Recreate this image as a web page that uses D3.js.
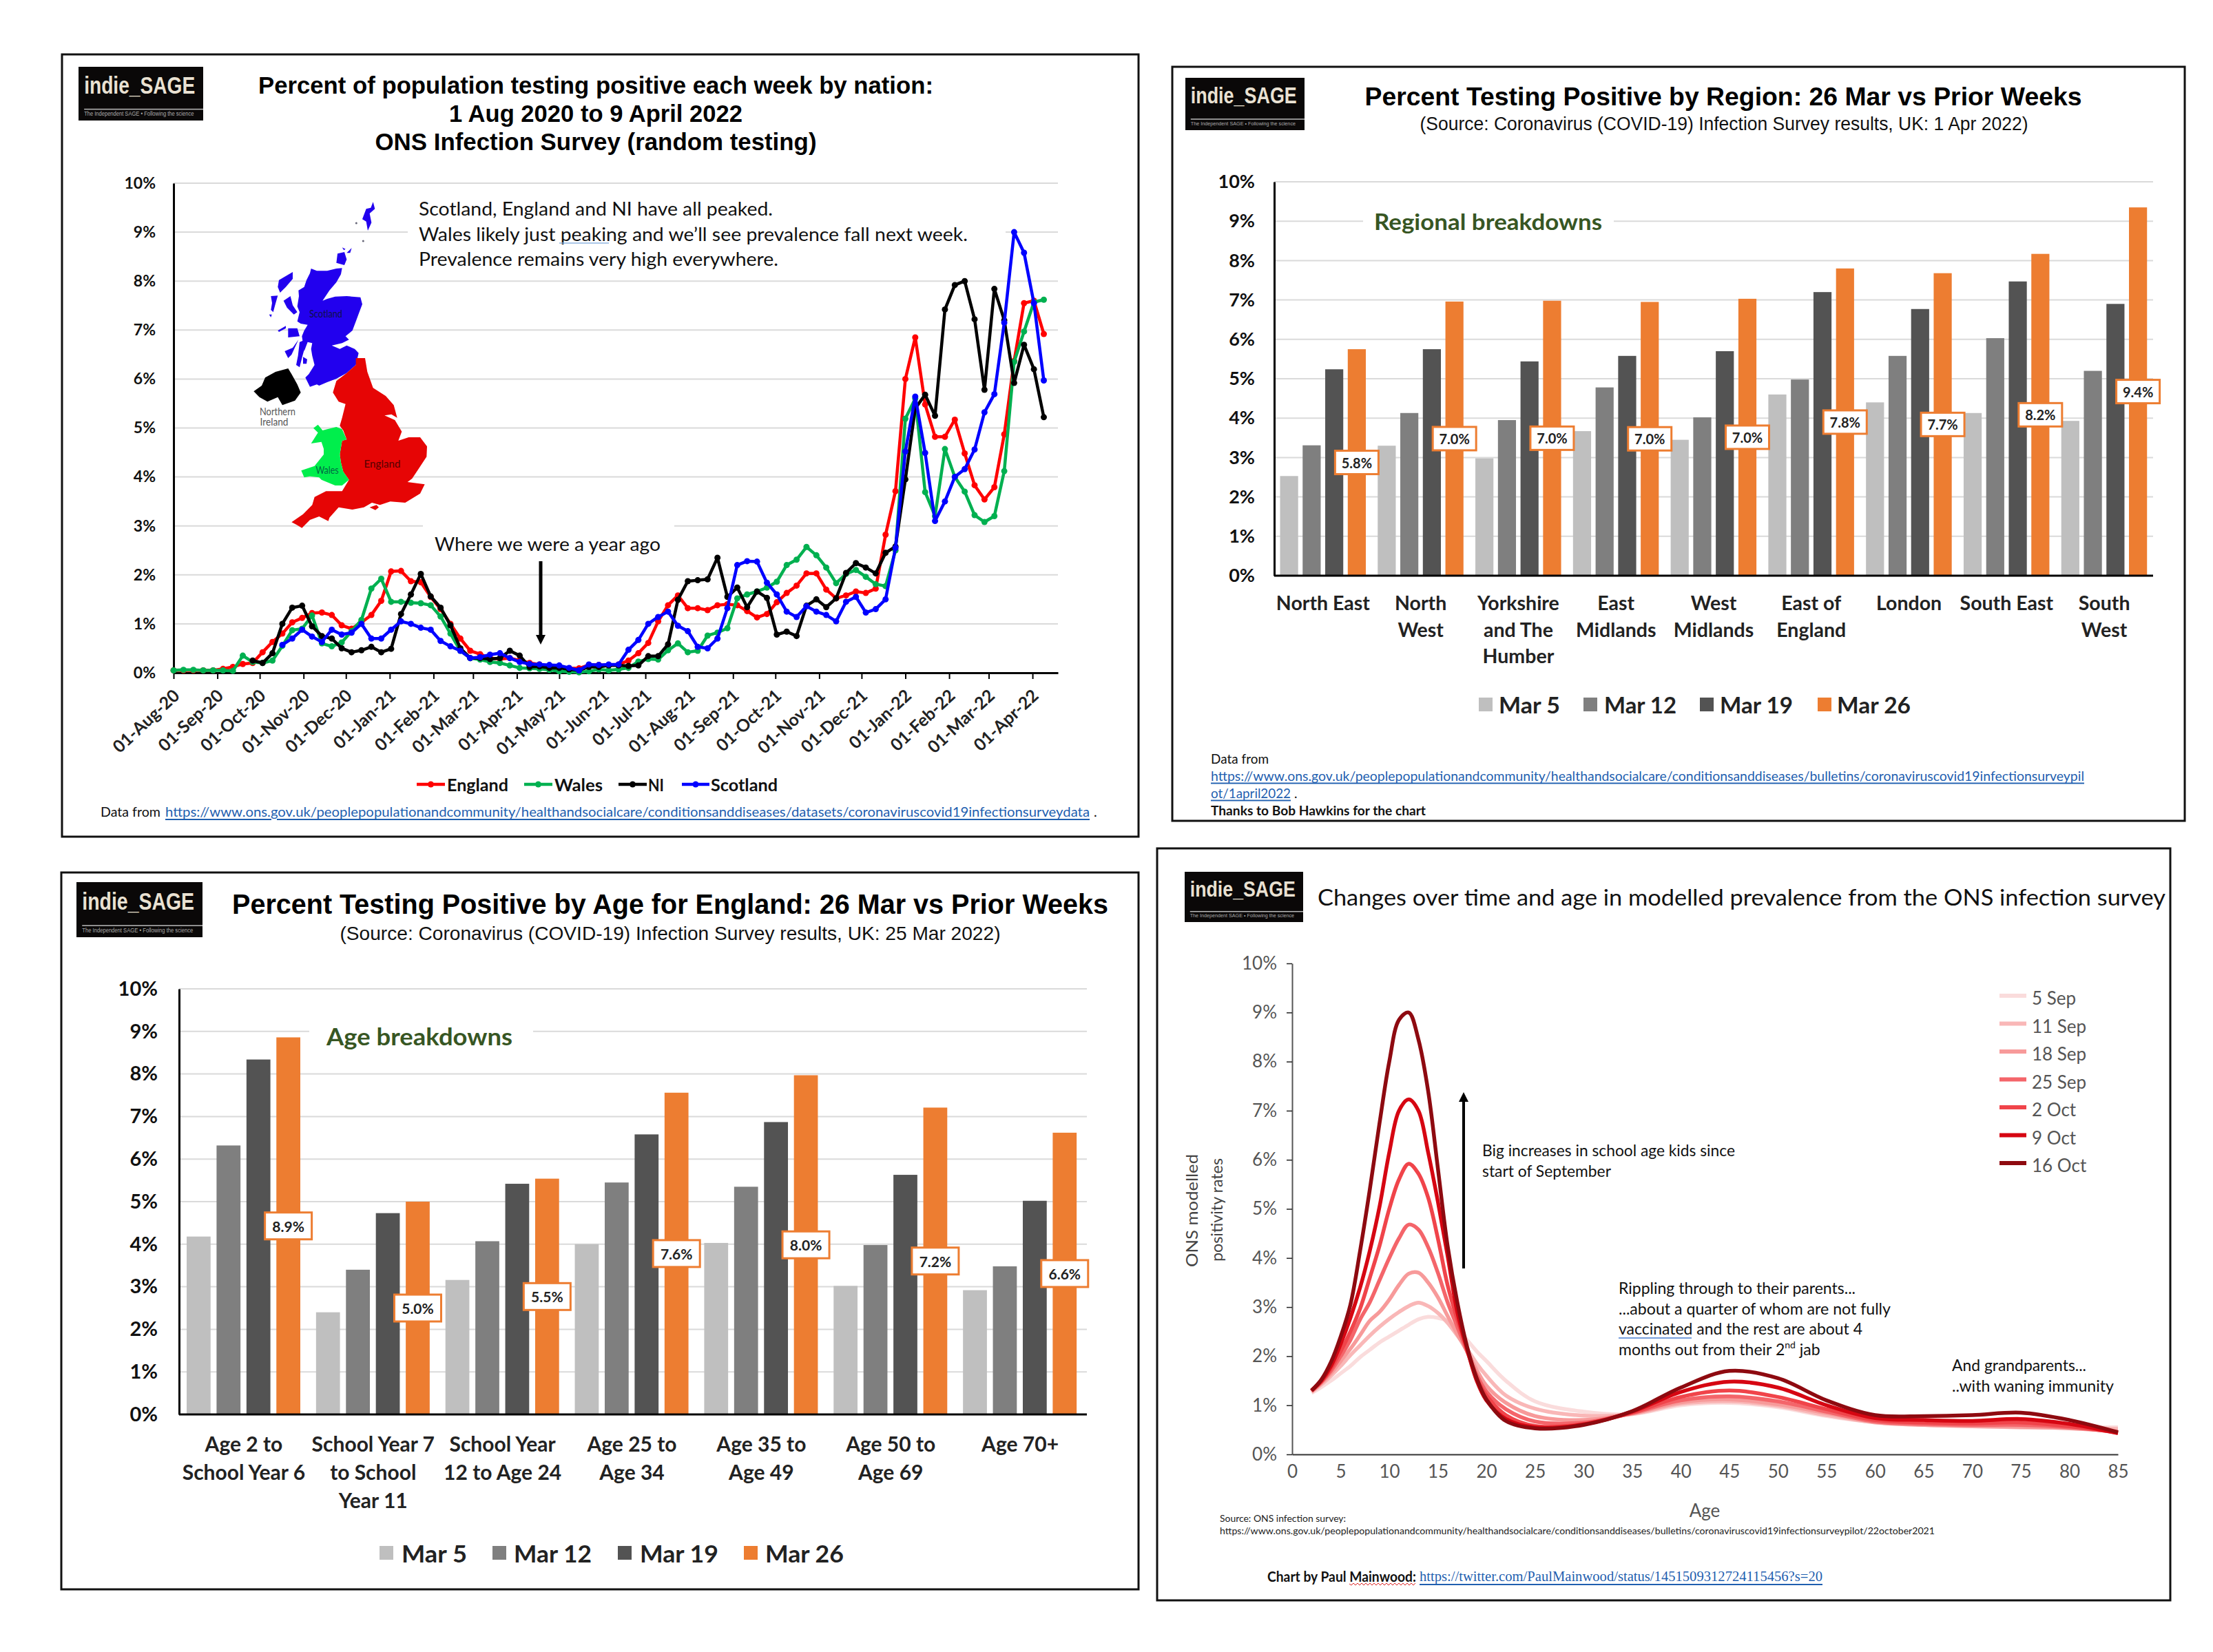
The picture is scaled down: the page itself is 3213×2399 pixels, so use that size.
<!DOCTYPE html>
<html><head><meta charset="utf-8">
<script src="https://cdn.jsdelivr.net/npm/d3@7"></script>
<style>html,body{margin:0;padding:0;background:#fff}svg{display:block}</style>
</head><body><svg id="c" width="3213" height="2399" xmlns="http://www.w3.org/2000/svg"></svg>
<script>
// ---------- data ----------
const percentTicks=[0,1,2,3,4,5,6,7,8,9,10];
const england=[.05,.05,.05,.05,.05,.08,.12,.18,.2,.42,.63,.8,1.03,1.12,1.22,1.23,1.18,.97,.9,1.03,1.18,1.47,2.07,2.08,1.87,1.85,1.55,1.3,1.0,.7,.45,.38,.3,.28,.3,.25,.2,.17,.14,.12,.09,.09,.16,.16,.15,.17,.25,.4,.61,1.05,1.38,1.58,1.32,1.32,1.28,1.38,1.4,1.38,1.26,1.13,1.2,1.44,1.63,1.78,2.03,2.03,1.7,1.52,1.58,1.66,1.63,1.72,2.82,3.71,6.0,6.85,5.48,4.82,4.82,5.17,4.48,3.83,3.54,3.79,4.87,6.37,7.55,7.6,6.92];
const wales=[.05,.06,.06,.05,.05,.05,.04,.35,.22,.2,.25,.55,.87,.9,1.17,.6,.54,.62,.85,1.08,1.72,1.92,1.45,1.45,1.43,1.42,1.38,1.15,.8,.45,.3,.27,.22,.2,.15,.1,.09,.08,.06,.03,.02,.01,.03,.07,.05,.07,.1,.23,.28,.27,.46,.6,.42,.45,.76,.82,.91,1.52,1.6,1.66,1.74,1.86,2.2,2.31,2.57,2.4,2.15,1.83,2.02,2.1,1.96,1.81,1.77,2.5,5.19,5.6,3.69,3.2,4.57,4.0,3.7,3.22,3.08,3.2,4.12,6.35,6.97,7.57,7.62];
const ni=[null,null,null,null,null,null,null,null,.25,.2,.4,1.0,1.33,1.37,.95,.75,.7,.5,.42,.46,.53,.42,.49,1.2,1.6,2.02,1.56,1.33,.97,.5,.3,.3,.28,.3,.45,.35,.12,.13,.1,.1,.07,.05,.12,.12,.15,.15,.14,.15,.34,.34,.58,1.49,1.87,1.89,1.91,2.35,1.55,1.74,1.34,1.66,1.53,.78,.84,.75,1.37,1.5,1.34,1.52,2.04,2.24,2.15,2.03,2.45,2.58,3.95,5.4,5.68,5.25,7.42,7.92,8.0,7.22,5.78,7.84,7.2,5.92,6.7,6.2,5.22];
const scotland=[null,null,null,null,null,null,null,null,null,null,null,.57,.7,.88,.74,.63,.88,.78,.82,1.0,.7,.7,.88,1.05,1.0,.92,.88,.65,.54,.45,.3,.32,.37,.4,.3,.22,.18,.17,.16,.15,.1,.05,.17,.16,.17,.17,.47,.67,1.0,1.14,1.25,.96,.85,.53,.5,.7,1.32,2.2,2.28,2.27,1.84,1.6,1.25,1.14,1.36,1.25,1.18,1.05,1.45,1.55,1.23,1.3,1.5,2.55,4.52,5.64,4.49,3.1,3.5,4.0,4.16,4.56,5.32,5.69,7.15,9.0,8.58,7.55,5.97];
const nationNames=["England","Wales","NI","Scotland"];
const monthTicks=["2020-08-01","2020-09-01","2020-10-01","2020-11-01","2020-12-01","2021-01-01","2021-02-01","2021-03-01","2021-04-01","2021-05-01","2021-06-01","2021-07-01","2021-08-01","2021-09-01","2021-10-01","2021-11-01","2021-12-01","2022-01-01","2022-02-01","2022-03-01","2022-04-01"];

const weekNames=["Mar 5","Mar 12","Mar 19","Mar 26"];
const regionCats=[["North East"],["North","West"],["Yorkshire","and The","Humber"],["East","Midlands"],["West","Midlands"],["East of","England"],["London"],["South East"],["South","West"]];
const regionMar5=[2.53,3.3,2.98,3.67,3.45,4.6,4.4,4.13,3.93];
const regionMar12=[3.31,4.13,3.95,4.78,4.02,4.98,5.58,6.03,5.2];
const regionMar19=[5.24,5.75,5.44,5.58,5.7,7.2,6.77,7.47,6.9];
const regionMar26=[5.75,6.96,6.98,6.95,7.03,7.8,7.68,8.17,9.35];
const regionLabels=["5.8%","7.0%","7.0%","7.0%","7.0%","7.8%","7.7%","8.2%","9.4%"];

const ageCats=[["Age 2 to","School Year 6"],["School Year 7","to School","Year 11"],["School Year","12 to Age 24"],["Age 25 to","Age 34"],["Age 35 to","Age 49"],["Age 50 to","Age 69"],["Age 70+"]];
const ageMar5=[4.18,2.4,3.16,4.0,4.03,3.02,2.92];
const ageMar12=[6.32,3.4,4.07,5.45,5.35,3.98,3.48];
const ageMar19=[8.34,4.73,5.42,6.58,6.87,5.63,5.02];
const ageMar26=[8.86,5.0,5.54,7.56,7.97,7.21,6.62];
const ageLabels=["8.9%","5.0%","5.5%","7.6%","8.0%","7.2%","6.6%"];

const modelAges=[2,3,4,5,6,7,8,9,10,11,12,13,14,15,16,17,18,19,20,22,25,30,35,40,45,50,55,60,65,70,75,80,85];
const sep5=[1.25,1.37,1.5,1.65,1.8,1.98,2.13,2.28,2.4,2.52,2.64,2.75,2.8,2.78,2.72,2.55,2.33,2.1,1.9,1.5,1.08,.87,.82,1.0,1.05,.96,.78,.65,.6,.57,.55,.55,.55];
const sep11=[1.27,1.42,1.6,1.8,2.02,2.22,2.42,2.6,2.76,2.9,3.02,3.09,3.02,2.88,2.68,2.42,2.15,1.85,1.6,1.2,.93,.79,.82,1.03,1.08,.99,.8,.65,.6,.57,.55,.54,.52];
const sep18=[1.28,1.45,1.65,1.9,2.15,2.43,2.72,2.9,3.15,3.45,3.68,3.7,3.5,3.2,2.82,2.45,2.1,1.72,1.4,1.05,.78,.7,.83,1.06,1.12,1.02,.84,.66,.6,.58,.56,.53,.47];
const sep25=[1.29,1.47,1.7,2.0,2.33,2.75,3.1,3.55,4.0,4.4,4.68,4.58,4.22,3.7,3.1,2.6,2.1,1.62,1.28,.92,.67,.65,.84,1.1,1.18,1.08,.87,.67,.62,.6,.6,.55,.45];
const oct2=[1.3,1.48,1.75,2.1,2.5,2.97,3.6,4.25,5.0,5.6,5.92,5.72,5.23,4.4,3.45,2.75,2.15,1.55,1.2,.8,.58,.62,.85,1.17,1.3,1.17,.92,.7,.65,.63,.65,.57,.44];
const oct9=[1.3,1.5,1.8,2.25,2.78,3.4,4.15,5.05,6.15,7.0,7.23,7.0,6.15,5.15,4.05,2.9,2.15,1.5,1.1,.72,.55,.61,.87,1.27,1.48,1.36,1.0,.74,.7,.68,.72,.62,.43];
const oct16=[1.3,1.52,1.88,2.4,3.05,4.15,5.4,6.75,8.0,8.85,9.0,8.45,7.4,5.83,4.25,3.1,2.2,1.55,1.12,.68,.53,.6,.88,1.36,1.7,1.55,1.1,.8,.78,.8,.85,.7,.45];
const modelNames=["5 Sep","11 Sep","18 Sep","25 Sep","2 Oct","9 Oct","16 Oct"];
const ageTicks=[0,5,10,15,20,25,30,35,40,45,50,55,60,65,70,75,80,85];

// ---------- helpers ----------
const svg=d3.select("#c");
const SANS="Lato, 'Open Sans', sans-serif", ARIAL="'Liberation Sans', Arial, sans-serif";
const LINK="#1F5FB0";
function T(g,txt,x,y,o={}){
  const t=g.append("text").attr("x",x).attr("y",y).text(txt)
    .attr("dominant-baseline","central")
    .attr("font-family",o.family||SANS).attr("font-size",o.size||24)
    .attr("font-weight",o.weight||400).attr("fill",o.fill||"#000")
    .attr("text-anchor",o.anchor||"start");
  if(o.width)t.attr("textLength",o.width).attr("lengthAdjust","spacingAndGlyphs");
  if(o.underline)t.attr("text-decoration","underline");
  return t;
}
function frame(x0,y0,x1,y1){svg.append("rect").attr("x",x0).attr("y",y0).attr("width",x1-x0).attr("height",y1-y0).attr("fill","none").attr("stroke","#111").attr("stroke-width",3);}
function logo(x0,y0,x1,y1){
  const g=svg.append("g"),w=x1-x0,h=y1-y0;
  g.append("rect").attr("x",x0).attr("y",y0).attr("width",w).attr("height",h).attr("fill","#0a0808");
  T(g,"indie_SAGE",x0+w*.045,y0+h*.34,{family:ARIAL,weight:700,size:h*.44,fill:"#E9E1D2",width:w*.89});
  g.append("rect").attr("x",x0+w*.045).attr("y",y0+h*.78).attr("width",w*.955).attr("height",1.5).attr("fill","#bbb");
  T(g,"The Independent SAGE • Following the science",x0+w*.045,y0+h*.875,{family:ARIAL,size:h*.105,fill:"#aaa",width:w*.88});
}
function pctAxis(g,y,xL,xR,o){
  g.selectAll("line.grid").data(percentTicks.slice(1)).join("line").attr("class","grid")
    .attr("x1",xL).attr("x2",xR).attr("y1",d=>y(d)).attr("y2",d=>y(d))
    .attr("stroke","#DADADA").attr("stroke-width",o.grid||2);
  return g;
}
function styleY(ax,o){
  ax.select(".domain").attr("stroke",o.stroke||"#000").attr("stroke-width",o.sw||3);
  ax.selectAll("text").attr("font-family",SANS).attr("font-size",o.size).attr("font-weight",o.weight||700).attr("fill",o.fill||"#111");
}

// ---------- panel 1: nations ----------
(function(){
  frame(90,79,1653,1215); logo(114,97,295,175);
  const gT=svg.append("g");
  T(gT,"Percent of population testing positive each week by nation:",865,123,{family:ARIAL,weight:700,size:35,anchor:"middle",width:980});
  T(gT,"1 Aug 2020 to 9 April 2022",865,164,{family:ARIAL,weight:700,size:35,anchor:"middle",width:426});
  T(gT,"ONS Infection Survey (random testing)",865,205,{family:ARIAL,weight:700,size:35,anchor:"middle",width:641});
  const x=d3.scaleUtc().domain([new Date(Date.UTC(2020,7,1)),new Date(Date.UTC(2022,3,19))]).range([252,1536]);
  const y=d3.scaleLinear().domain([0,10]).range([977,266]);
  const g=svg.append("g");
  pctAxis(g,y,252,1536,{grid:2});
  g.append("rect").attr("x",592).attr("y",285).attr("width",868).attr("height",110).attr("fill","#fff");
  g.append("rect").attr("x",614).attr("y",755).attr("width",365).attr("height",50).attr("fill","#fff");
  // map illustration
  const c1=p=>[360+p[0]/3,280+p[1]/3], c2=p=>[360+p[0]/3,520+p[1]/3];
  const line=d3.line().curve(d3.curveLinearClosed);
  const shape=(pts,fill)=>g.append("path").attr("d",line(pts)).attr("fill",fill);
  [[[275,330],[300,340],[345,340],[385,330],[410,328],[405,355],[385,390],[355,425],[325,470],[345,462],[380,452],[430,450],[490,455],[498,485],[485,520],[470,560],[455,600],[425,625],[440,640],[410,655],[365,665],[400,680],[430,665],[465,680],[482,698],[470,750],[430,785],[385,810],[345,825],[310,840],[300,835],[270,845],[250,805],[265,790],[290,750],[280,710],[275,680],[280,655],[260,650],[245,690],[235,625],[245,600],[260,575],[230,570],[215,560],[225,520],[215,495],[222,450],[220,425],[245,410],[255,380],[270,350]],
   [[225,650],[250,640],[250,665],[235,720],[225,760],[210,750],[218,710]],
   [[155,470],[185,450],[195,490],[215,520],[200,530],[170,500]],
   [[135,380],[195,345],[195,375],[165,410],[140,435],[130,410]],
   [[100,450],[130,448],[118,490],[110,520],[100,510],[105,480]],
   [[92,530],[104,530],[100,542]],
   [[175,590],[215,590],[225,625],[175,630]],
   [[160,690],[195,675],[220,640],[190,705],[175,720]],
   [[240,715],[258,725],[255,745],[240,745]],
   [[130,600],[165,580],[165,590],[135,606]],
   [[390,265],[420,258],[430,290],[420,315],[385,305]],
   [[410,238],[425,245],[418,250]],[[430,262],[452,240],[445,262]],
   [[545,40],[553,70],[530,90],[538,130],[522,165],[515,125],[498,115],[515,70],[535,65]]
  ].forEach(s=>shape(s.map(c1),"#2200EE"));
  [[472,132],[502,210]].forEach(p=>{const q=c1(p);g.append("circle").attr("cx",q[0]).attr("cy",q[1]).attr("r",1.5).attr("fill","#667");});
  shape([[470,0],[510,0],[520,60],[545,130],[600,165],[635,205],[650,260],[625,245],[595,250],[640,270],[670,320],[655,360],[700,345],[750,345],[780,385],[778,430],[745,480],[715,525],[695,540],[770,550],[750,590],[685,630],[620,625],[575,640],[540,630],[505,650],[455,660],[395,650],[355,695],[350,710],[310,690],[270,705],[235,740],[210,725],[190,715],[240,680],[280,640],[290,605],[340,580],[410,580],[440,530],[415,495],[405,455],[400,420],[410,360],[430,355],[415,315],[400,295],[410,260],[425,200],[395,190],[370,150],[385,100],[430,65],[470,30]].map(c2),"#E60505");
  shape([[530,650],[560,640],[570,650],[555,662]].map(c2),"#E60505");
  shape([[285,305],[305,290],[325,315],[345,310],[385,300],[410,310],[430,355],[410,360],[400,420],[405,455],[415,495],[440,530],[410,555],[380,555],[320,530],[310,520],[270,515],[245,520],[232,490],[290,470],[330,420],[330,395],[320,365],[275,372],[305,325]].map(c2),"#00EE4C");
  shape([[120,60],[175,45],[190,70],[215,115],[230,150],[205,185],[150,205],[130,170],[85,190],[50,170],[25,145],[60,120],[75,85]].map(c2),"#000");
  T(g,"Scotland",473,455,{size:15,fill:"#10104a",anchor:"middle",width:48});
  T(g,"Northern",403,597,{size:15,fill:"#555",anchor:"middle",width:52});
  T(g,"Ireland",398,612,{size:15,fill:"#555",anchor:"middle",width:41});
  T(g,"Wales",475,682,{size:15,fill:"#064",anchor:"middle",width:33});
  T(g,"England",555,672,{size:16,fill:"#500",anchor:"middle",width:53});
  // annotation text
  T(g,"Scotland, England and NI have all peaked.",608,303,{size:26,fill:"#111",width:514});
  T(g,"Wales likely just peaking and we’ll see prevalence fall next week.",608,340,{size:26,fill:"#111",width:797});
  T(g,"Prevalence remains very high everywhere.",608,376,{size:26,fill:"#111",width:522});
  g.append("line").attr("x1",812).attr("x2",884).attr("y1",353).attr("y2",353).attr("stroke","#8fb4e0").attr("stroke-width",1.5);
  T(g,"Where we were a year ago",631,790,{size:26,fill:"#111",width:328});
  g.append("line").attr("x1",785).attr("x2",785).attr("y1",815).attr("y2",925).attr("stroke","#000").attr("stroke-width",5);
  g.append("path").attr("d",d3.line()([[778,922],[792,922],[785,936]])).attr("fill","#000");
  // axes
  const ya=g.append("g").attr("transform","translate(252,0)").call(d3.axisLeft(y).tickValues(percentTicks).tickSize(0).tickPadding(26).tickFormat(d=>d+"%"));
  styleY(ya,{size:23,sw:3});
  const tickDates=monthTicks.map(s=>new Date(s+"T00:00:00Z"));
  const xa=g.append("g").attr("transform","translate(0,977)").call(d3.axisBottom(x).tickValues(tickDates).tickSize(9).tickSizeOuter(0).tickFormat(d3.utcFormat("%d-%b-%y")));
  xa.select(".domain").attr("stroke","#000").attr("stroke-width",3);
  xa.selectAll(".tick line").attr("stroke","#000").attr("stroke-width",2);
  xa.selectAll("text").attr("font-family",SANS).attr("font-size",25).attr("font-weight",700).attr("fill","#222")
    .attr("text-anchor","end").attr("dominant-baseline","central").attr("dy",0).attr("y",0)
    .attr("transform","translate(3,28) rotate(-43)");
  // series
  const week=i=>new Date(Date.UTC(2020,7,1+7*i));
  const colors=["#FF0000","#00B050","#000000","#0000FF"];
  [england,wales,ni,scotland].forEach((s,k)=>{
    const pts=s.map((v,i)=>({i,v})).filter(d=>d.v!==null);
    const l=d3.line().x(d=>x(week(d.i))).y(d=>y(d.v));
    g.append("path").attr("d",l(pts)).attr("fill","none").attr("stroke",colors[k]).attr("stroke-width",4.5).attr("stroke-linejoin","round");
    g.selectAll(null).data(pts).join("circle").attr("cx",d=>x(week(d.i))).attr("cy",d=>y(d.v)).attr("r",4.5).attr("fill",colors[k]);
  });
  // legend
  const lg=[[605,646,649,89],[761,802,805,70],[898,939,941,23],[990,1030,1032,97]];
  nationNames.forEach((n,k)=>{
    const [a,b,c,w]=lg[k];
    g.append("line").attr("x1",a).attr("x2",b).attr("y1",1139).attr("y2",1139).attr("stroke",colors[k]).attr("stroke-width",4.5);
    g.append("circle").attr("cx",(a+b)/2).attr("cy",1139).attr("r",4.5).attr("fill",colors[k]);
    T(g,n,c,1139,{size:24,weight:700,fill:"#111",width:w});
  });
  T(g,"Data from",146,1178,{size:20,fill:"#111",width:87});
  T(g,"https://www.ons.gov.uk/peoplepopulationandcommunity/healthandsocialcare/conditionsanddiseases/datasets/coronaviruscovid19infectionsurveydata",240,1178,{size:20,fill:LINK,underline:true,width:1342});
  T(g,".",1588,1178,{size:20,fill:"#111"});
})();

// ---------- bar panels ----------
const barColors=["#BFBFBF","#7F7F7F","#535353","#ED7D31"];
function barPanel(c){
  frame(...c.frame); logo(...c.logo);
  const g=svg.append("g");
  T(g,c.title,c.titleX,c.titleY,{family:ARIAL,weight:700,size:c.titleSize,anchor:"middle",width:c.titleW});
  T(g,c.sub,c.subX,c.subY,{family:ARIAL,size:c.subSize,anchor:"middle",width:c.subW,fill:"#111"});
  const y=d3.scaleLinear().domain([0,10]).range([c.y0,c.y1]);
  const x0=d3.scaleBand().domain(d3.range(c.cats.length)).range([c.xL,c.xR]);
  const x1=d3.scaleBand().domain(d3.range(4)).range(c.inner).paddingInner(.2);
  const xEnd=c.axisEnd||c.xR;
  pctAxis(g,y,c.xL,xEnd,{grid:2});
  const ya=g.append("g").attr("transform",`translate(${c.xL},0)`).call(d3.axisLeft(y).tickValues(percentTicks).tickSize(0).tickPadding(c.yPad).tickFormat(d=>d+"%"));
  styleY(ya,{size:c.ySize,sw:3});
  g.append("rect").attr("x",c.noteBox[0]).attr("width",c.noteBox[1]-c.noteBox[0]).attr("y",y(9)-8).attr("height",16).attr("fill","#fff");
  T(g,c.note,c.noteX,c.noteY,{size:c.noteSize,weight:700,fill:"#375623",width:c.noteW});
  c.series.forEach((s,k)=>{
    g.selectAll(null).data(s).join("rect")
      .attr("x",(d,i)=>x0(i)+x1(k)).attr("width",x1.bandwidth())
      .attr("y",d=>y(d)).attr("height",d=>y(0)-y(d)).attr("fill",barColors[k]);
  });
  g.append("line").attr("x1",c.xL).attr("x2",xEnd).attr("y1",c.y0).attr("y2",c.y0).attr("stroke","#000").attr("stroke-width",3);
  c.cats.forEach((lines,i)=>lines.forEach((t,j)=>T(g,t,x0(i)+x0.bandwidth()/2,c.catY+j*c.catDy,{size:c.catSize,weight:700,fill:"#222",anchor:"middle"})));
  const lb=g.selectAll(null).data(c.series[3]).join("g").attr("transform",(d,i)=>`translate(${x0(i)+x1(3)+x1.bandwidth()/2},${(y(d)+y(0))/2})`);
  lb.append("rect").attr("x",-c.box[0]/2).attr("y",-c.box[1]/2).attr("width",c.box[0]).attr("height",c.box[1]).attr("fill","#fff").attr("stroke","#ED7D31").attr("stroke-width",3);
  lb.append("text").text((d,i)=>c.labels[i]).attr("text-anchor","middle").attr("dominant-baseline","central").attr("font-family",SANS).attr("font-weight",700).attr("font-size",c.boxSize).attr("fill","#222");
  weekNames.forEach((n,k)=>{
    const [sx,tx,tw]=c.legend[k];
    g.append("rect").attr("x",sx).attr("y",c.legY-10).attr("width",20).attr("height",20).attr("fill",barColors[k]);
    T(g,n,tx,c.legY,{size:c.legSize,weight:700,fill:"#222",width:tw});
  });
  return g;
}
const g2=barPanel({frame:[1702,97,3172,1192],logo:[1721,113,1894,189],
  title:"Percent Testing Positive by Region: 26 Mar vs Prior Weeks",titleX:2502,titleY:140,titleSize:37,titleW:1041,
  sub:"(Source: Coronavirus (COVID-19) Infection Survey results, UK: 1 Apr 2022)",subX:2503,subY:180,subSize:27,subW:883,
  y0:836,y1:264,xL:1850,xR:3126,cats:regionCats,catY:875,catDy:38.5,catSize:28.5,inner:[8.5,133],
  series:[regionMar5,regionMar12,regionMar19,regionMar26],labels:regionLabels,box:[63,34],boxSize:20,
  yPad:28,ySize:27,note:"Regional breakdowns",noteX:1995,noteY:321,noteSize:32,noteW:331,noteBox:[1979,2343],
  legY:1023,legSize:32,legend:[[2147,2176,89],[2299,2329,105],[2468,2497,106],[2639,2667,107]]});
T(g2,"Data from",1758,1101,{size:19,fill:"#111",width:84});
T(g2,"https://www.ons.gov.uk/peoplepopulationandcommunity/healthandsocialcare/conditionsanddiseases/bulletins/coronaviruscovid19infectionsurveypil",1758,1126,{size:19,fill:LINK,underline:true,width:1268});
T(g2,"ot/1april2022",1758,1151,{size:19,fill:LINK,underline:true,width:116});
T(g2,".",1879,1151,{size:19,fill:"#111"});
T(g2,"Thanks to Bob Hawkins for the chart",1758,1176,{size:19,weight:700,fill:"#111",width:312});

barPanel({frame:[89,1267,1653,2308],logo:[111,1281,294,1361],
  title:"Percent Testing Positive by Age for England: 26 Mar vs Prior Weeks",titleX:973,titleY:1313,titleSize:40,titleW:1272,
  sub:"(Source: Coronavirus (COVID-19) Infection Survey results, UK: 25 Mar 2022)",subX:973,subY:1355,subSize:28,subW:959,
  y0:2054,y1:1436,xL:260,xR:1575,axisEnd:1578,cats:ageCats,catY:2096,catDy:41,catSize:30,inner:[11,176],
  series:[ageMar5,ageMar12,ageMar19,ageMar26],labels:ageLabels,box:[68,39],boxSize:21,
  yPad:31,ySize:29,note:"Age breakdowns",noteX:474,noteY:1504,noteSize:34,noteW:270,noteBox:[449,774],
  legY:2255,legSize:34,legend:[[551,583,95],[715,746,113],[897,929,114],[1080,1111,114]]});

// ---------- panel 4 ----------
(function(){
  frame(1680,1232,3151,2324); logo(1720,1266,1892,1339);
  const g=svg.append("g");
  T(g,"Changes over time and age in modelled prevalence from the ONS infection survey",1913,1302,{size:33,fill:"#111",width:1231});
  const x=d3.scaleLinear().domain([0,85]).range([1876,3075]);
  const y=d3.scaleLinear().domain([0,10]).range([2112,1399]);
  const ya=g.append("g").attr("transform","translate(1876,0)").call(d3.axisLeft(y).tickValues(percentTicks).tickSize(8).tickPadding(14).tickSizeOuter(0).tickFormat(d=>d+"%"));
  ya.select(".domain").attr("stroke","#555").attr("stroke-width",2);
  ya.selectAll(".tick line").attr("stroke","#222").attr("stroke-width",1.5);
  ya.selectAll("text").attr("font-family",SANS).attr("font-size",26).attr("font-weight",400).attr("fill","#555");
  const xa=g.append("g").attr("transform","translate(0,2112)").call(d3.axisBottom(x).tickValues(ageTicks).tickSize(0).tickPadding(16));
  xa.select(".domain").attr("stroke","#333").attr("stroke-width",2);
  xa.selectAll("text").attr("font-family",SANS).attr("font-size",26).attr("font-weight",400).attr("fill","#555");
  T(g,"Age",2475,2193,{size:26,fill:"#555",anchor:"middle"});
  T(g,"ONS modelled",0,0,{size:24,fill:"#444",anchor:"middle",width:164}).attr("transform","translate(1729,1758) rotate(-90)");
  T(g,"positivity rates",0,0,{size:24,fill:"#444",anchor:"middle",width:150}).attr("transform","translate(1765,1757) rotate(-90)");
  const cols=["#FADCDC","#F9B7B7","#F79A9A","#F4656A","#F0444A","#D60612","#8E0A10"];
  const l=d3.line().x(d=>x(d[0])).y(d=>y(d[1])).curve(d3.curveCatmullRom.alpha(.5));
  [sep5,sep11,sep18,sep25,oct2,oct9,oct16].forEach((s,k)=>{
    g.append("path").attr("d",l(s.map((v,i)=>[modelAges[i],v]))).attr("fill","none").attr("stroke",cols[k]).attr("stroke-width",5.5);
  });
  modelNames.forEach((n,k)=>{
    const yy=1446+k*40.5;
    g.append("line").attr("x1",2903).attr("x2",2942).attr("y1",yy).attr("y2",yy).attr("stroke",cols[k]).attr("stroke-width",6);
    T(g,n,2950,yy+3,{size:26,fill:"#555"});
  });
  g.append("line").attr("x1",2125).attr("x2",2125).attr("y1",1842).attr("y2",1597).attr("stroke","#000").attr("stroke-width",4);
  g.append("path").attr("d",d3.line()([[2118,1600],[2132,1600],[2125,1586]])).attr("fill","#000");
  const a={size:23,fill:"#111"};
  T(g,"Big increases in school age kids since",2152,1670,{...a,width:367});
  T(g,"start of September",2152,1700,{...a,width:187});
  T(g,"Rippling through to their parents...",2350,1870,{...a,width:344});
  T(g,"...about a quarter of whom are not fully",2350,1900,{...a,width:395});
  T(g,"vaccinated and the rest are about 4",2350,1929,{...a,width:354});
  g.append("line").attr("x1",2350).attr("x2",2456).attr("y1",1943).attr("y2",1943).attr("stroke","#4a7fd0").attr("stroke-width",1.5);
  const m=T(g,"months out from their 2",2350,1959,{...a});
  m.append("tspan").text("nd").attr("font-size",14).attr("dy",-7);
  m.append("tspan").text(" jab").attr("dy",7);
  T(g,"And grandparents...",2834,1982,{...a,width:195});
  T(g,"..with waning immunity",2834,2012,{...a,width:235});
  T(g,"Source: ONS infection survey:",1771,2204,{size:14,fill:"#222",width:183});
  T(g,"https://www.ons.gov.uk/peoplepopulationandcommunity/healthandsocialcare/conditionsanddiseases/bulletins/coronaviruscovid19infectionsurveypilot/22october2021",1771,2222,{size:14,fill:"#222",width:1038});
  T(g,"Chart by Paul Mainwood:",1840,2289,{size:20,weight:700,fill:"#111",width:216});
  g.append("path").attr("d","M1959 2300"+d3.range(1,33).map(i=>`L${1959+i*3} ${2300+(i%2?2:-1)}`).join("")).attr("fill","none").attr("stroke","#d22").attr("stroke-width",1);
  T(g,"https://twitter.com/PaulMainwood/status/1451509312724115456?s=20",2061,2289,{family:"'Liberation Serif',serif",size:20,fill:LINK,underline:true,width:585});
})();
</script></body></html>
